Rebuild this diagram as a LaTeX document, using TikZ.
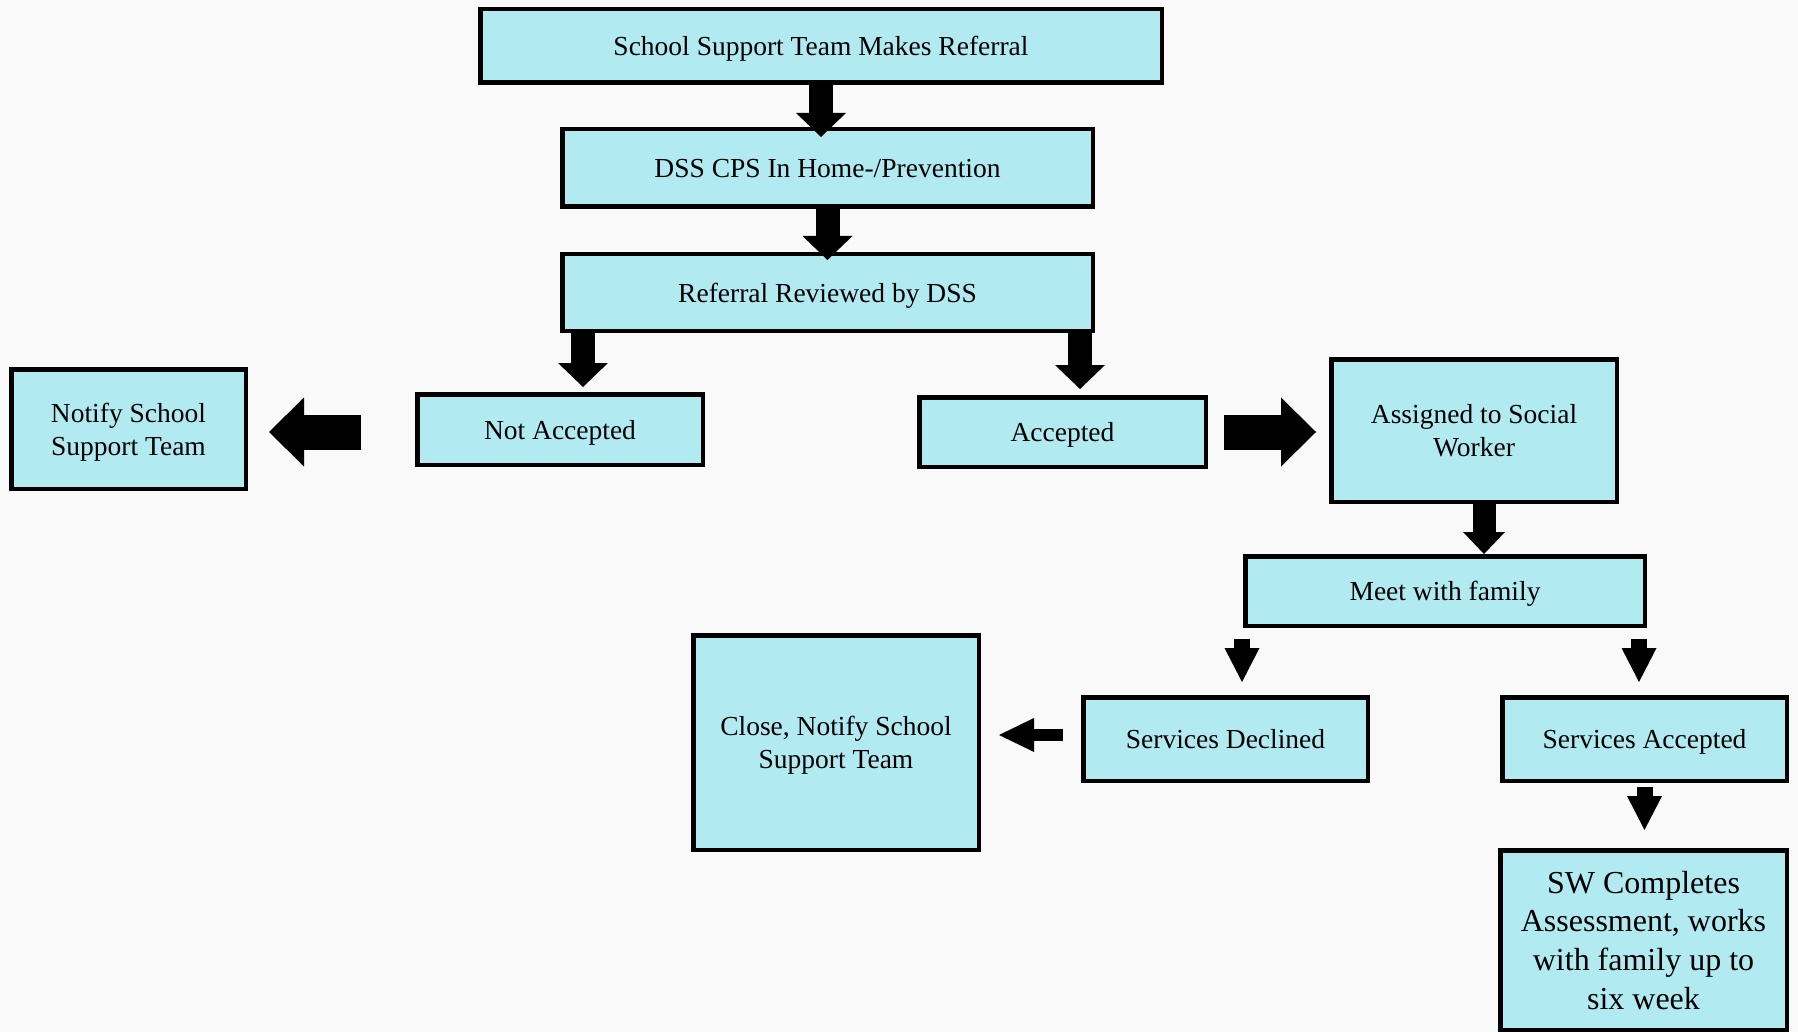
\documentclass[tikz,border=0pt]{standalone}
\usepackage{fontspec}
\setmainfont{Liberation Serif}
\usetikzlibrary{arrows.meta,calc}
\definecolor{boxfill}{RGB}{178,234,241}
\definecolor{bgcol}{RGB}{249,249,249}
\tikzset{
  box/.style 2 args={draw=black, line width=4.5pt, fill=boxfill, inner sep=0pt,
    align=center, minimum width=#1pt-4.5pt, minimum height=#2pt-4.5pt,
    text depth=-3pt, font=\fontsize{27.5}{33}\selectfont},
  bigv/.style={line width=24pt, -{Triangle[width=50pt,length=24pt,line width=0pt]}},
  midv/.style={line width=23pt, -{Triangle[width=42pt,length=22pt,line width=0pt]}},
  smallv/.style={line width=16pt, -{Triangle[width=35pt,length=34pt,line width=0pt]}},
  sideh/.style={line width=35pt, -{Triangle[width=69pt,length=35pt,line width=0pt]}},
  smallh/.style={line width=12pt, -{Triangle[width=34pt,length=35pt,line width=0pt]}}
}
\begin{document}
\begin{tikzpicture}[x=1pt,y=-1pt]
\fill[bgcol] (0,0) rectangle (1798,1032);
\useasboundingbox (0,0) rectangle (1798,1032);

\node[box={686}{78}] (b1) at (821,46) {School Support Team Makes Referral};
\node[box={535}{82}] (b2) at (827.5,168) {DSS CPS In Home-/Prevention};
\node[box={535}{81}] (b3) at (827.5,292.5) {Referral Reviewed by DSS};
\node[box={290}{75}] (na) at (560,429.5) {Not Accepted};
\node[box={291}{74}] (ac) at (1062.5,432) {Accepted};
\node[box={239}{124}] (ns) at (128.5,429) {Notify School\\Support Team};
\node[box={290}{147}] (as) at (1474,430.5) {Assigned to Social\\Worker};
\node[box={404}{74}] (mf) at (1445,591) {Meet with family};
\node[box={289}{88}] (sd) at (1225.5,739) {Services Declined};
\node[box={289}{88}] (sa) at (1644.5,739) {Services Accepted};
\node[box={290}{219}] (cl) at (836,742.5) {Close, Notify School\\Support Team};
\node[box={291}{184}, font=\fontsize{32}{38.6}\selectfont] (sw) at (1643.5,940)
  {SW Completes\\Assessment, works\\with family up to\\six week};

\draw[bigv] (b1.south) -- ($(b1.south |- b2.north)+(0,10)$);
\draw[bigv] (b2.south) -- ($(b2.south |- b3.north)+(0,8)$);
\draw[bigv] ($(b3.south)+(-244.5,0)$) -- ($(na.north)+(23,-5)$);
\draw[bigv] ($(b3.south)+(252.5,0)$) -- ($(ac.north)+(17.5,-6)$);
\draw[sideh] ($(na.west)+(-54,2.5)$) -- ($(ns.east)+(21,3)$);
\draw[sideh] ($(ac.east)+(16,0)$) -- ($(as.west)+(-13,1.5)$);
\draw[midv] ($(as.south)+(10,0)$) -- ($(mf.north)+(39,0)$);
\draw[smallv] ($(mf.south)+(-203,11)$) -- ($(sd.north)+(16.5,-13)$);
\draw[smallv] ($(mf.south)+(194,11)$) -- ($(sa.north)+(-5.5,-13)$);
\draw[smallh] ($(sd.west)+(-18,-4)$) -- ($(cl.east)+(18,-7.5)$);
\draw[smallv] ($(sa.south)+(0,4)$) -- ($(sw.north)+(1,-18)$);
\end{tikzpicture}
\end{document}
